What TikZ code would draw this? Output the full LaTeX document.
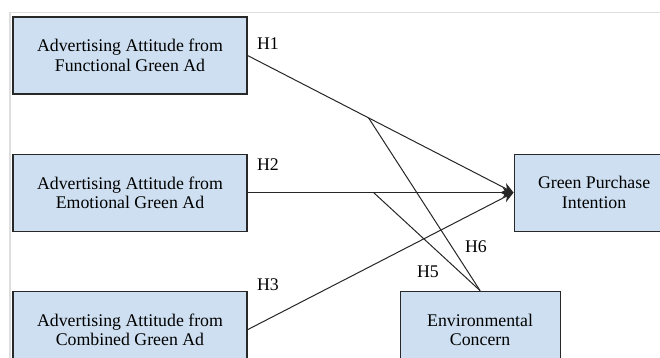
\documentclass[tikz,border=0pt]{standalone}
\usepackage{fontspec}
\setmainfont{Liberation Serif}
\usepackage{tikz}
\usetikzlibrary{positioning, arrows.meta}
\definecolor{boxblue}{RGB}{205,223,240}
\definecolor{boxline}{RGB}{40,40,40}
\definecolor{framegray}{RGB}{222,222,222}
\tikzset{
>={Stealth[length=11pt, width=10pt]}, % bold filled arrow heads
node distance=59pt, % vertical gap between the boxes
every node/.style={font=\fontsize{17.8}{19.5}\selectfont},
construct/.style={draw=boxline, line width=1.1pt, fill=boxblue, align=center, minimum width=234pt, minimum height=77pt, inner sep=0pt}, % the blue boxes
path/.style={draw=black!85, line width=1pt}, % hypothesis lines
}
\tikzset{
  moderator/.append style={construct, minimum width=160pt}
}

\begin{document}
\begin{tikzpicture}[x=1pt, y=-1pt]
      \useasboundingbox (0,0) rectangle (660,358);
      \clip (0,0) rectangle (660,358);
      \draw[framegray, line width=1.3pt] (660,12.5) -- (10,12.5) -- (10,358);

      \node[construct] (func) at (130,55.5) {Advertising Attitude from\\Functional Green Ad};
      \node[construct, below=of func] (emo) {Advertising Attitude from\\Emotional Green Ad};
      \node[construct, below=of emo] (comb) {Advertising Attitude from\\Combined Green Ad};
      \node[moderator, right=266pt of emo] (gpi) {Green Purchase\\Intention};
      \node[moderator, right=152pt of comb] (env) {Environmental\\Concern};

      \path (func.east) -- (gpi.west) coordinate[pos=0.455] (m1);
      \path (emo.east) -- (gpi.west) coordinate[pos=0.474] (m2);

      \draw[path, ->] (func.east) -- (gpi.west);
      \draw[path, ->] (emo.east) -- (gpi.west);
      \draw[path, ->] (comb.east) -- (gpi.west);
      \draw[path] (env.north) -- (m1);
      \draw[path] (env.north) -- (m2);

      \node (h1) at (268,44) {H1};
      \node (h2) at (268,165) {H2};
      \node (h3) at (268,285) {H3};
      \node (h6) at (476,247) {H6};
      \node (h5) at (428,272) {H5};
    \end{tikzpicture}
\end{document}
